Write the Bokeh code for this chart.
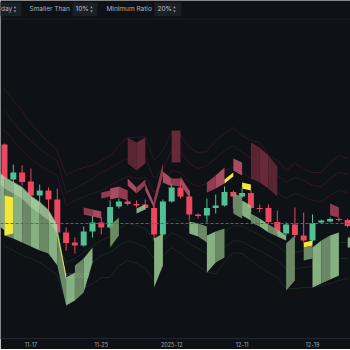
import numpy as np
from bokeh.plotting import figure
from bokeh.models import Range1d, FixedTicker, Span, ColumnDataSource
from bokeh.embed import file_html
from bokeh.resources import INLINE
from bokeh.core.properties import value

# ---------------- data ----------------
opens = [98700,95200,95900,95000,93600,94100,93200,89900,88900,88600,90000,90900,90400,92500,93000,92750,92700,92350,89700,93000,
         94400,93500,91700,91600,92350,92600,93950,93500,93850,92350,92350,90950,89800,90700,89600,89100,90900,91000,91250,91150]
highs = [98800,96700,96600,96300,94700,94400,94300,90400,89400,90500,91600,91400,93100,93300,93200,93100,93200,92600,93200,94800,
         95100,94100,91800,93300,93700,94500,94100,94300,94100,92700,92700,92100,90900,92400,91900,91700,91200,91400,91400,91300]
lows = [95200,94600,94600,93500,92600,91500,89700,88100,87800,88500,89400,89700,90300,92300,92600,92400,92200,89100,89600,92900,
        93300,91100,91300,90900,91800,92500,92300,93400,91900,91900,90800,89700,89600,89400,88900,89000,90800,90900,91000,90400]
closes = [95300,95900,94950,93600,94100,93200,89900,88850,88600,90000,90900,90400,92450,93000,92750,92600,92350,89700,93000,94400,
          93500,91700,91550,92350,92600,93950,93500,93850,92350,92250,90950,89800,90700,89650,89100,90850,91100,91250,91150,90550]
price_line = 90800
low_label = "85,600.8"
low_label_price = 85600

tick_idx = [3, 11, 19, 27, 35]
tick_labels = ["11-17", "11-25", "2025-12", "12-11", "12-19"]

# envelope lines (upper: red, lower: green)
env_r1 = [104300,103100,102100,100800,99800,98900,98100,95600,96100,96400,96600,97100,97600,98600,99400,99400,99500,97100,98100,99900,
          99600,98400,97900,98000,99100,99800,100400,99600,99100,98900,97600,97100,96100,96800,96300,95900,95900,96900,97600,97300]
env_r2 = [102100,100900,99900,99100,98300,97600,97100,93900,94300,94800,95300,95900,96300,96900,97300,97100,97300,95300,96300,98100,
          97900,96800,96300,96600,97300,98100,98600,97900,97300,97100,96100,95600,94900,95400,95100,94600,94500,95300,95900,95700]
env_r3 = [100100,99100,98100,97300,96600,96100,95600,92600,93100,93500,93800,94100,94600,95100,95500,95300,95400,93900,94800,96100,
          95900,94900,94500,94800,95500,96100,96400,95900,95300,95100,94300,93900,93300,93800,93500,93100,93000,93600,94100,93900]
env_g1 = [91900,91400,91000,90600,90200,89600,89100,86900,87300,87900,88600,89100,89500,90300,90800,90600,90300,89100,90600,91300,
          91000,90300,89900,89300,89500,89900,90600,90500,90100,89700,89100,88600,87900,87900,88100,88100,88300,88600,88900,88900]
env_g2 = [90300,89900,89400,89100,88600,88100,87600,85100,85600,86300,86900,87600,87900,88600,89100,88800,88400,87300,89100,89900,
          89500,88800,88300,87800,87900,88400,89100,89000,88500,88100,87600,87100,86300,86300,86400,86500,86700,86900,87300,87300]
env_g3 = [88600,88100,87600,87300,86900,86300,85600,83100,83300,84300,84800,85400,85400,86600,87100,86800,86300,85100,87600,88400,
          87800,87100,86600,85900,85800,86900,87900,87800,87100,86500,85900,85400,84300,84300,84400,84400,84600,84800,85100,85300]

# support zones (green): strip from candle k to k+1
green_start = [-1,0,1,2,3,4,5,6,7,8,9,12,15,17,21,22,23,24,26,27,28,29,30,31,32,34,35,36,37,39]
green_top_l = [96100,95400,94900,94400,93500,92900,92100,90500,85400,86600,87300,90600,92300,89300,91000,90800,89600,90000,93800,93100,91800,91300,90700,90200,88800,88400,88400,89100,89600,89400]
green_top_r = [95400,94900,94400,93500,92900,92100,90600,85600,85900,87300,88400,91400,92700,89800,90800,90500,90000,90300,93500,92600,91300,90700,90200,89600,89600,88600,89100,89600,89900,89400]
green_bot_l = [90900,89600,89300,88900,88500,88100,87800,86600,82600,83100,83900,88400,91800,84400,89800,89500,85900,86900,91800,91600,90900,90500,89900,89500,84100,87100,84400,84800,85200,88400]
green_bot_r = [90100,89300,88900,88500,88100,87800,86600,82600,83100,83900,86900,89600,92200,86600,89500,88900,86900,87400,91300,91100,90500,89900,89500,89100,85100,87300,84800,85200,85600,88400]

lt_start = [-1,0,1,2,3,4,5]
lt_top_l = [96300,95500,95000,94500,93600,93000,92200]
lt_top_r = [95500,95000,94500,93600,93000,92200,90700]
lt_bot_l = [95100,94300,93800,93300,92400,91800,91100]
lt_bot_r = [94300,93800,93300,92400,91800,91100,89800]

# resistance zones (red)
red_start = [9,10,11,12,13,14,15,16,17,18,19,20,23,24,26,37]
red_top_l = [92400,92200,93900,94300,94500,95300,94400,94800,93300,96000,95300,95500,94900,95600,97300,92800]
red_top_r = [92200,92000,94100,94500,94100,94400,95200,92800,96800,95300,95300,94100,95600,96400,96900,92400]
red_bot_l = [91700,91500,93300,93200,93400,94600,93800,94100,92300,94900,94600,94700,93900,94300,96100,91600]
red_bot_r = [91500,91300,93500,93400,93100,93800,94600,92300,95600,94500,94500,93400,94300,94800,95600,91400]

blk_start = [14,15,19,28,29,30]
blk_top_l = [99400,98900,100100,98900,98400,97600]
blk_top_r = [98900,99400,100100,98400,97600,96500]
blk_bot_l = [96800,96100,96900,95300,94900,94300]
blk_bot_r = [96100,96800,96900,94900,94300,93500]

# small-ratio highlights (yellow)
yel_start = [0,6,25,27,34]
yel_top_l = [93600,90000,95200,94900,88900]
yel_top_r = [93400,85700,95900,94700,89100]
yel_bot_l = [89600,89600,94800,94300,88400]
yel_bot_r = [89800,85200,95500,94100,88600]

# ---------------- layout ----------------
BG = "#0e1116"
FRAME_W, FRAME_H = 350, 338
X0_PX, STEP_PX = 4.0, 8.8
Y_TOP, Y_PER_PX = 113100, 100
x_start = -X0_PX / STEP_PX
x_end = (FRAME_W - X0_PX) / STEP_PX

def sx(px):
    return (px - X0_PX) / STEP_PX

def sy(py):
    return Y_TOP - Y_PER_PX * py

p = figure(frame_width=FRAME_W, frame_height=FRAME_H,
           x_range=Range1d(x_start, x_end), y_range=Range1d(sy(FRAME_H), Y_TOP),
           output_backend="svg", toolbar_location=None, y_axis_location=None,
           background_fill_color=BG, border_fill_color=BG, min_border=0,
           outline_line_color=None)
p.grid.visible = False
ax = p.xaxis[0]
ax.ticker = FixedTicker(ticks=tick_idx)
ax.major_label_overrides = {t: l for t, l in zip(tick_idx, tick_labels)}
ax.major_tick_line_color = None
ax.minor_tick_line_color = None
ax.major_tick_out = 0
ax.major_tick_in = 0
ax.axis_line_color = "#22262d"
ax.major_label_text_font = "Inter"
ax.major_label_text_font_size = "5.5px"
ax.major_label_text_color = "#a3a7ae"
ax.major_label_standoff = 3

# envelope lines
idx = np.arange(len(opens))
for ln in (env_r1, env_r2, env_r3):
    p.line(idx, ln, line_color="#3d1822", line_width=0.8)
for ln in (env_g1, env_g2, env_g3):
    p.line(idx, ln, line_color="#1a3121", line_width=0.8)

p.add_layout(Span(location=price_line, dimension="width", line_color="#3a7762",
                  line_dash="3 2", line_width=1))

# candles
o = np.array(opens); c = np.array(closes)
up = c >= o
col = np.where(up, "#52bf95", "#ea4760")
src = ColumnDataSource(dict(x=idx, h=highs, l=lows, top=np.maximum(o, c),
                            bot=np.minimum(o, c), col=col))
p.segment("x", "h", "x", "l", source=src, line_color="col", line_width=1)
p.vbar(x="x", width=0.68, top="top", bottom="bot", source=src,
       fill_color="col", line_color=None)

def strips(start, tl, tr, bl, br):
    xs, ys = [], []
    for s, a, b, cc, d in zip(start, tl, tr, bl, br):
        xs.append([s, s + 1, s + 1, s])
        ys.append([a, b, d, cc])
    return xs, ys

xs, ys = strips(green_start, green_top_l, green_top_r, green_bot_l, green_bot_r)
gcol = ["#95c28e" if s % 2 else "#74966f" for s in green_start]
p.patches(xs, ys, fill_color=gcol, fill_alpha=0.9, line_color=None)

xs, ys = strips(lt_start, lt_top_l, lt_top_r, lt_bot_l, lt_bot_r)
p.patches(xs, ys, fill_color="#b8deb0", fill_alpha=0.5, line_color=None)

xs, ys = strips(blk_start, blk_top_l, blk_top_r, blk_bot_l, blk_bot_r)
bcol = ["#6a2b3a" if s % 2 else "#5f2734" for s in blk_start]
p.patches(xs, ys, fill_color=bcol, fill_alpha=0.95, line_color=None)

xs, ys = strips(red_start, red_top_l, red_top_r, red_bot_l, red_bot_r)
rcol = ["#a9435a" if s % 2 else "#c4566e" for s in red_start]
p.patches(xs, ys, fill_color=rcol, fill_alpha=0.85, line_color=None)

xs, ys = strips(yel_start, yel_top_l, yel_top_r, yel_bot_l, yel_bot_r)
p.patches(xs, ys, fill_color="#f3e63c", fill_alpha=1.0, line_color=None)

p.text(x=[sx(64)], y=[low_label_price], text=[low_label], text_font=value("Inter"),
       text_font_size="6px", text_color="#c9d1c9", text_alpha=0.35,
       text_baseline="middle", text_align="left")

# ---------------- top control bar ----------------
p.add_layout(Span(location=sy(18.5), dimension="width", line_color="#1f232a", line_width=1))
p.quad(left=[sx(-6), sx(72), sx(154)], right=[sx(21), sx(97), sx(181)],
       top=[sy(1.7)] * 3, bottom=[sy(15.7)] * 3, fill_color="#1b1f26",
       line_color=None)
p.text(x=[sx(0.5), sx(29), sx(106)], y=[sy(8.8)] * 3,
       text=["day", "Smaller Than", "Minimum Ratio"], text_font=value("Inter"),
       text_font_size="6.5px", text_color="#aeb2ba", text_baseline="middle",
       text_align="left")
p.text(x=[sx(75), sx(157)], y=[sy(8.8)] * 2, text=["10%", "20%"],
       text_font=value("Inter"), text_font_size="6.5px", text_color="#c5c9d0",
       text_baseline="middle", text_align="left")
chev_x = [sx(14.5), sx(91), sx(174)]
p.scatter(chev_x, [sy(7.0)] * 3, marker="triangle", size=2.6,
          fill_color="#8d929b", line_color=None)
p.scatter(chev_x, [sy(10.6)] * 3, marker="inverted_triangle", size=2.6,
          fill_color="#8d929b", line_color=None)

open("out.html", "w").write(file_html(p, INLINE))
